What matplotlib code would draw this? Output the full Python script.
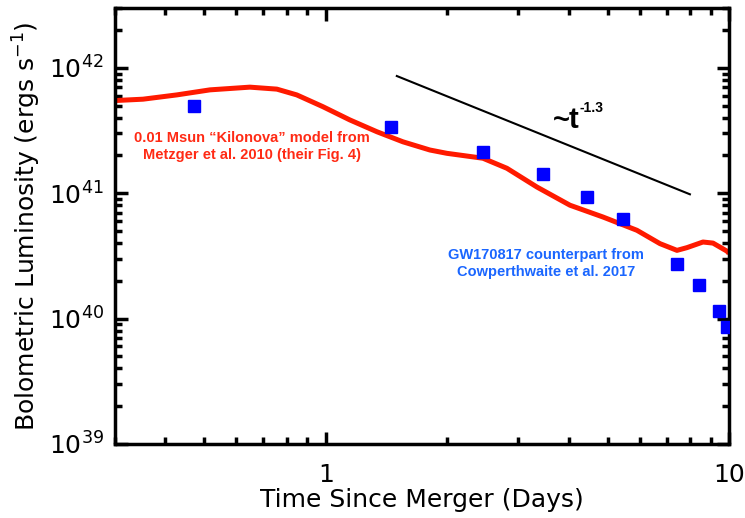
import matplotlib
matplotlib.use("Agg")
import matplotlib.pyplot as plt
from matplotlib.ticker import LogLocator, NullFormatter

plt.rcParams['font.family'] = ['DejaVu Sans']
plt.rcParams['mathtext.fontset'] = 'dejavusans'

# Metzger et al. 2010 kilonova model (0.01 Msun), days vs erg/s
model_days = [0.30, 0.352, 0.427, 0.516, 0.648, 0.756, 0.847, 0.983, 1.147, 1.339,
              1.553, 1.812, 1.996, 2.453, 2.813, 3.339, 4.032, 4.868, 5.911, 6.743,
              7.430, 7.867, 8.620, 9.128, 9.886, 10.0]
model_lum = [5.48e41, 5.62e41, 6.08e41, 6.67e41, 7.01e41, 6.76e41, 6.08e41, 4.90e41,
             3.84e41, 3.09e41, 2.57e41, 2.21e41, 2.08e41, 1.90e41, 1.58e41, 1.12e41,
             8.02e40, 6.46e40, 5.06e40, 3.96e40, 3.50e40, 3.68e40, 4.08e40, 4.00e40,
             3.45e40, 3.31e40]

# GW170817 bolometric light curve (Cowperthwaite et al. 2017)
obs_days = [0.47, 1.45, 2.45, 3.45, 4.45, 5.45, 7.45, 8.45, 9.45, 9.9]
obs_lum = [4.97e41, 3.36e41, 2.14e41, 1.42e41, 9.3e40, 6.28e40, 2.74e40, 1.84e40,
           1.16e40, 8.6e39]

# reference power law ~t^-1.3
pl_days = [1.5, 8.0]
pl_lum = [8.6e41, 9.8e40]

fig = plt.figure(figsize=(7.45, 5.18), dpi=100)
ax = fig.add_axes([0.1544, 0.1429, 0.8241, 0.8417])

ax.plot(model_days, model_lum, color='#ff1a00', lw=3.6, solid_capstyle='butt', zorder=2)
ax.plot(obs_days, obs_lum, ls='none', marker='s', ms=8.6, color='#0000ff',
        mec='#0000ff', zorder=3)
ax.plot(pl_days, pl_lum, color='black', lw=1.5, zorder=2)

ax.set_xscale('log')
ax.set_yscale('log')
ax.set_xlim(0.3, 10)
ax.set_ylim(1e39, 3e42)

ax.xaxis.set_minor_locator(LogLocator(base=10, subs=range(2, 10), numticks=20))
ax.xaxis.set_minor_formatter(NullFormatter())
ax.set_xticks([1, 10])
ax.set_xticklabels(['1', '10'])
ax.yaxis.set_minor_locator(LogLocator(base=10, subs=range(2, 10), numticks=20))
ax.yaxis.set_minor_formatter(NullFormatter())

for side in ax.spines.values():
    side.set_linewidth(2.5)
ax.tick_params(which='both', direction='in', top=True, right=True, width=2.5)
ax.tick_params(which='major', length=9, labelsize=18)
ax.tick_params(which='minor', length=5)
ax.tick_params(axis='x', which='major', pad=14)
ax.tick_params(axis='y', which='major', pad=8)

ax.set_xlabel('Time Since Merger (Days)', fontsize=18)
ax.set_ylabel('Bolometric Luminosity (ergs s$^{-1}$)', fontsize=18)
ax.xaxis.set_label_coords(0.5, -0.1)
ax.yaxis.set_label_coords(-0.117, 0.5)

ann_font = ['Liberation Sans', 'DejaVu Sans']
ax.text(0.223, 0.682, '0.01 Msun \u201cKilonova\u201d model from\nMetzger et al. 2010 (their Fig. 4)',
        transform=ax.transAxes, ha='center', va='center', color='#ff2a14',
        fontsize=10.5, fontweight='bold', linespacing=1.25, family=ann_font)
ax.text(0.702, 0.414, 'GW170817 counterpart from\nCowperthwaite et al. 2017',
        transform=ax.transAxes, ha='center', va='center', color='#1a66ff',
        fontsize=10.5, fontweight='bold', linespacing=1.25, family=ann_font)
ax.text(0.757, 0.725, '~t', transform=ax.transAxes, ha='right', va='baseline',
        fontsize=21, fontweight='bold', family=ann_font)
ax.text(0.757, 0.771, '-1.3', transform=ax.transAxes, ha='left', va='center',
        fontsize=10, fontweight='bold', family=ann_font)

fig.savefig('out.png', dpi=100)
